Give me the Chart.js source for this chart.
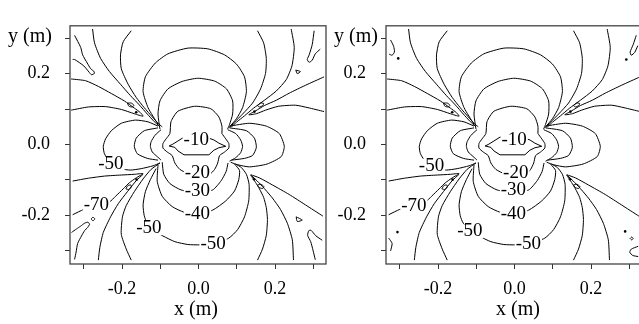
<!DOCTYPE html>
<html>
<head>
<meta charset="utf-8">
<script src="https://cdn.jsdelivr.net/npm/chart.js@4/dist/chart.umd.min.js"></script>
<style>
  html, body { margin: 0; padding: 0; background: #fff; overflow: hidden; width: 639px; height: 324px; }
  canvas { position: absolute; top: 0; }
  #left { left: 0; }
  #right { left: 316px; }
</style>
</head>
<body>
<canvas id="left" width="330" height="324"></canvas>
<canvas id="right" width="330" height="324"></canvas>
<script>
// contour polylines, [x (m), y (m)]
var contourM10 = [[-0.038,0.021],[-0.054,0.010],[-0.069,0.000],[-0.077,-0.004],[-0.062,-0.008],[-0.054,-0.018],[-0.038,-0.029],[0.027,-0.029],[0.040,-0.016],[0.053,-0.009],[0.071,-0.005],[0.053,0.004],[0.040,0.013],[0.027,0.018],[-0.038,0.021]];
var contourM20 = [[0.061,0.031],[0.061,0.052],[0.053,0.078],[0.032,0.101],[-0.010,0.108],[-0.054,0.094],[-0.072,0.065],[-0.075,0.031],[-0.085,0.016],[-0.093,0.003],[-0.093,-0.010],[-0.082,-0.021],[-0.069,-0.031],[-0.062,-0.052],[-0.049,-0.070],[-0.023,-0.084],[0.003,-0.086],[0.029,-0.084],[0.042,-0.070],[0.050,-0.052],[0.055,-0.031],[0.068,-0.021],[0.079,-0.010],[0.079,0.003],[0.071,0.016],[0.061,0.031]];
var archTop30 = [[-0.101,0.044],[-0.106,0.086],[-0.101,0.123],[-0.080,0.157],[-0.043,0.178],[-0.002,0.187],[0.042,0.179],[0.073,0.157],[0.089,0.123],[0.089,0.086],[0.081,0.057],[0.076,0.044]];
var archTop40 = [[-0.106,0.057],[-0.132,0.104],[-0.145,0.149],[-0.139,0.191],[-0.113,0.230],[-0.080,0.256],[-0.028,0.272],[0.024,0.270],[0.068,0.253],[0.099,0.227],[0.120,0.191],[0.125,0.149],[0.115,0.104],[0.099,0.073],[0.081,0.050]];
var lobeLeft30 = [[-0.098,0.042],[-0.114,0.026],[-0.124,0.008],[-0.126,-0.005],[-0.121,-0.021],[-0.108,-0.034],[-0.098,-0.044]];
var lobeLeft40 = [[-0.106,0.047],[-0.142,0.039],[-0.163,0.018],[-0.168,-0.005],[-0.160,-0.026],[-0.134,-0.039],[-0.106,-0.044]];
var lobeLeft50 = [[-0.106,0.052],[-0.132,0.064],[-0.165,0.069],[-0.202,0.060],[-0.228,0.039],[-0.243,0.016],[-0.249,-0.005],[-0.246,-0.026],[-0.230,-0.052],[-0.204,-0.068],[-0.178,-0.072],[-0.150,-0.068],[-0.119,-0.060],[-0.101,-0.052]];
var lobeRight30 = [[0.076,0.042],[0.097,0.031],[0.110,0.013],[0.115,-0.005],[0.110,-0.023],[0.097,-0.037],[0.081,-0.047]];
var lobeRight40 = [[0.081,0.047],[0.125,0.039],[0.146,0.018],[0.151,-0.008],[0.141,-0.031],[0.120,-0.039],[0.086,-0.044]];
var lobeRight50 = [[0.081,0.052],[0.133,0.060],[0.177,0.052],[0.211,0.031],[0.224,-0.005],[0.216,-0.034],[0.179,-0.055],[0.133,-0.063],[0.102,-0.057],[0.084,-0.050]];
var cupBottom30 = [[-0.095,-0.050],[-0.091,-0.084],[-0.075,-0.110],[-0.046,-0.128],[-0.004,-0.136],[0.037,-0.128],[0.059,-0.102],[0.072,-0.076],[0.077,-0.052]];
var cupBottom40 = [[-0.106,-0.057],[-0.108,-0.104],[-0.095,-0.146],[-0.069,-0.175],[-0.038,-0.191],[-0.002,-0.198],[0.037,-0.185],[0.071,-0.159],[0.094,-0.131],[0.105,-0.099],[0.107,-0.073],[0.094,-0.055]];
var cupBottom50 = [[-0.111,-0.068],[-0.126,-0.099],[-0.139,-0.133],[-0.145,-0.170],[-0.142,-0.201],[-0.134,-0.222],[-0.113,-0.245],[-0.093,-0.258],[-0.062,-0.274],[-0.028,-0.282],[0.003,-0.283],[0.037,-0.281],[0.079,-0.264],[0.102,-0.240],[0.120,-0.204],[0.131,-0.159],[0.132,-0.112],[0.125,-0.084],[0.112,-0.065],[0.097,-0.055]];
var edgeTopLeftA = [[-0.277,0.326],[-0.272,0.287],[-0.256,0.243],[-0.233,0.206],[-0.204,0.170],[-0.178,0.138],[-0.155,0.112],[-0.134,0.086],[-0.116,0.065],[-0.103,0.052]];
var edgeTopLeftB = [[-0.176,0.321],[-0.197,0.290],[-0.204,0.253],[-0.202,0.214],[-0.184,0.170],[-0.163,0.133],[-0.142,0.104],[-0.121,0.078],[-0.106,0.060],[-0.095,0.050]];
var tongueTopLeft = [[-0.333,0.185],[-0.295,0.180],[-0.262,0.164],[-0.228,0.144],[-0.194,0.123],[-0.168,0.103],[-0.152,0.090],[-0.145,0.080],[-0.168,0.087],[-0.202,0.099],[-0.243,0.107],[-0.288,0.106],[-0.333,0.097]];
var edgeTopRightA = [[0.154,0.321],[0.170,0.287],[0.177,0.243],[0.175,0.201],[0.162,0.157],[0.141,0.117],[0.115,0.086],[0.094,0.063],[0.081,0.047]];
var edgeTopRightB = [[0.242,0.326],[0.250,0.274],[0.244,0.222],[0.229,0.183],[0.203,0.151],[0.172,0.125],[0.143,0.102],[0.120,0.081],[0.099,0.063],[0.086,0.050]];
var tongueTopRight = [[0.328,0.191],[0.279,0.167],[0.237,0.145],[0.203,0.125],[0.172,0.110],[0.149,0.095],[0.131,0.084],[0.151,0.087],[0.175,0.097],[0.209,0.108],[0.253,0.111],[0.286,0.104],[0.328,0.093]];
var tongueBottomLeft = [[-0.329,-0.103],[-0.288,-0.095],[-0.246,-0.089],[-0.202,-0.086],[-0.168,-0.084],[-0.145,-0.082],[-0.163,-0.094],[-0.181,-0.108],[-0.197,-0.125],[-0.217,-0.146],[-0.233,-0.162],[-0.267,-0.172],[-0.300,-0.183],[-0.329,-0.198]];
var edgeBottomLeftA = [[-0.145,-0.084],[-0.163,-0.102],[-0.186,-0.133],[-0.210,-0.167],[-0.230,-0.204],[-0.249,-0.248],[-0.258,-0.290],[-0.262,-0.326]];
var edgeBottomLeftB = [[-0.101,-0.052],[-0.124,-0.070],[-0.145,-0.097],[-0.168,-0.133],[-0.189,-0.172],[-0.199,-0.204],[-0.202,-0.253],[-0.189,-0.295],[-0.176,-0.326]];
var tongueBottomRight = [[0.136,-0.085],[0.159,-0.094],[0.193,-0.114],[0.237,-0.141],[0.279,-0.170],[0.325,-0.202]];
var edgeBottomRightA = [[0.136,-0.086],[0.149,-0.107],[0.159,-0.125],[0.170,-0.149],[0.177,-0.178],[0.180,-0.211],[0.177,-0.256],[0.167,-0.295],[0.154,-0.326]];
var edgeBottomRightB = [[0.138,-0.087],[0.157,-0.107],[0.175,-0.128],[0.193,-0.151],[0.214,-0.183],[0.232,-0.222],[0.245,-0.269],[0.248,-0.326]];
var blobTopLeft = [[-0.186,0.117],[-0.176,0.117],[-0.169,0.111],[-0.173,0.106],[-0.182,0.108],[-0.186,0.117]];
var blobTopRight = [[0.154,0.110],[0.162,0.117],[0.170,0.116],[0.168,0.110],[0.159,0.106],[0.154,0.110]];
var blobBottomLeft = [[-0.190,-0.125],[-0.185,-0.116],[-0.177,-0.114],[-0.176,-0.120],[-0.182,-0.127],[-0.190,-0.125]];
var blobBottomRight = [[0.154,-0.114],[0.163,-0.112],[0.171,-0.119],[0.167,-0.124],[0.158,-0.121],[0.154,-0.114]];
var dotsBoth = [[-0.163,0.091],[0.146,0.093],[-0.162,-0.099],[0.145,-0.098]];

// only in the left panel
var hookTopLeft = [[-0.324,0.308],[-0.308,0.274],[-0.303,0.253],[-0.291,0.230],[-0.282,0.214],[-0.274,0.207],[-0.272,0.201],[-0.280,0.197],[-0.286,0.204],[-0.300,0.222],[-0.324,0.240],[-0.329,0.240]];
var hookTopRight = [[0.302,0.321],[0.297,0.282],[0.289,0.253],[0.284,0.240],[0.289,0.232],[0.297,0.238],[0.305,0.256],[0.318,0.269]];
var triTopRight = [[0.254,0.210],[0.266,0.206],[0.258,0.200],[0.254,0.210]];
var hookBottomLeft = [[-0.332,-0.248],[-0.319,-0.238],[-0.308,-0.230],[-0.298,-0.222],[-0.289,-0.219],[-0.285,-0.225],[-0.290,-0.234],[-0.298,-0.243],[-0.306,-0.258],[-0.316,-0.279],[-0.320,-0.303],[-0.324,-0.324]];
var ringBottomLeft = [[-0.281,-0.210],[-0.276,-0.205],[-0.271,-0.210],[-0.276,-0.215],[-0.281,-0.210]];
var hookBottomRight = [[0.323,-0.270],[0.306,-0.257],[0.294,-0.242],[0.288,-0.243],[0.285,-0.256],[0.293,-0.274],[0.299,-0.298],[0.305,-0.325]];
var triBottomRight = [[0.255,-0.204],[0.271,-0.213],[0.258,-0.217],[0.255,-0.204]];

// only in the right panel
var hookTopLeft2 = [[-0.324,0.295],[-0.316,0.277],[-0.314,0.261],[-0.320,0.252],[-0.328,0.255]];
var hookTopRight2 = [[0.318,0.308],[0.310,0.282],[0.302,0.261],[0.305,0.252],[0.314,0.260],[0.322,0.279]];
var arcBottomLeft2 = [[-0.329,-0.264],[-0.320,-0.279],[-0.324,-0.300]];
var ringBottomRight2 = [[0.302,-0.265],[0.306,-0.261],[0.310,-0.265],[0.306,-0.269],[0.302,-0.265]];
var arcBottomRight2 = [[0.323,-0.287],[0.305,-0.295],[0.301,-0.304],[0.309,-0.313],[0.323,-0.316]];
var dotsRight = [[-0.304,0.243],[0.292,0.240],[-0.306,-0.247],[0.289,-0.245]];

// contour labels
var labelText = ['-10', '-20', '-30', '-40', '-50', '-50', '-50', '-70'];
var labelsLeft = [[-0.006,0.012],[-0.003,-0.080],[-0.003,-0.132],[-0.003,-0.197],[0.038,-0.281],[-0.130,-0.236],[-0.229,-0.056],[-0.267,-0.170]];
var labelsRight = [[-0.001,0.013],[0.003,-0.080],[-0.003,-0.128],[-0.003,-0.197],[0.036,-0.281],[-0.117,-0.245],[-0.217,-0.060],[-0.263,-0.174]];

var xMin = -0.336, xMax = 0.333, yMin = -0.337, yMax = 0.335;

var sharedLines = [contourM10, contourM20, archTop30, archTop40, lobeLeft30, lobeLeft40, lobeLeft50,
  lobeRight30, lobeRight40, lobeRight50, cupBottom30, cupBottom40, cupBottom50,
  edgeTopLeftA, edgeTopLeftB, tongueTopLeft, edgeTopRightA, edgeTopRightB, tongueTopRight,
  tongueBottomLeft, edgeBottomLeftA, edgeBottomLeftB, tongueBottomRight, edgeBottomRightA, edgeBottomRightB,
  blobTopLeft, blobTopRight, blobBottomLeft, blobBottomRight];
var leftLines = sharedLines.concat([hookTopLeft, hookTopRight, triTopRight, hookBottomLeft, ringBottomLeft, hookBottomRight, triBottomRight]);
var rightLines = sharedLines.concat([hookTopLeft2, hookTopRight2, arcBottomLeft2, ringBottomRight2, arcBottomRight2]);

var serif = "'Liberation Serif', 'Times New Roman', serif";

function toPoints(arr) {
  return arr.map(function (p) { return { x: p[0], y: p[1] }; });
}

function tickLabel(v) {
  var k = Math.round(v * 10);
  if (k % 2 !== 0) return '';
  if (k === 0) return '0.0';
  return (k / 10).toFixed(1);
}

function makeChart(id, lines, dots, labels, yTitleX, xTitleX) {
  var datasets = lines.map(function (arr) {
    return {
      data: toPoints(arr),
      showLine: true,
      borderColor: '#000',
      borderWidth: 1,
      pointRadius: 0,
      tension: arr === contourM10 ? 0 : 0.2,
      fill: false
    };
  });
  datasets.push({
    data: toPoints(dots),
    showLine: false,
    pointRadius: 1.3,
    pointBackgroundColor: '#000',
    pointBorderWidth: 0
  });

  var decor = {
    id: 'decor',
    afterDatasetsDraw: function (chart) {
      var ctx = chart.ctx;
      var xs = chart.scales.x, ys = chart.scales.y;
      ctx.save();
      ctx.font = '19px ' + serif;
      ctx.textAlign = 'center';
      ctx.textBaseline = 'middle';
      for (var i = 0; i < labels.length; i++) {
        var px = xs.getPixelForValue(labels[i][0]);
        var py = ys.getPixelForValue(labels[i][1]);
        var w = ctx.measureText(labelText[i]).width + 2;
        ctx.fillStyle = '#fff';
        ctx.fillRect(px - w / 2, py - 7, w, 14);
        ctx.fillStyle = '#000';
        ctx.fillText(labelText[i], px, py);
      }
      ctx.restore();
    },
    afterDraw: function (chart) {
      var ctx = chart.ctx, a = chart.chartArea;
      ctx.save();
      ctx.strokeStyle = '#444';
      ctx.lineWidth = 1.3;
      ctx.strokeRect(a.left, a.top, a.right - a.left, a.bottom - a.top);
      ctx.fillStyle = '#000';
      ctx.font = '20px ' + serif;
      ctx.textBaseline = 'middle';
      ctx.textAlign = 'left';
      ctx.fillText('y (m)', yTitleX, 37);
      ctx.textAlign = 'center';
      ctx.fillText('x (m)', xTitleX, 310);
      ctx.restore();
    }
  };

  var axisCommon = function (min, max) {
    return {
      type: 'linear',
      min: min,
      max: max,
      border: { display: false },
      grid: { drawOnChartArea: false, drawTicks: true, tickLength: 5, color: '#333', lineWidth: 1 },
      ticks: {
        stepSize: 0.1,
        includeBounds: false,
        autoSkip: false,
        maxRotation: 0,
        color: '#000',
        font: { family: serif, size: 18 },
        callback: tickLabel
      }
    };
  };
  var xAxis = axisCommon(xMin, xMax);
  xAxis.ticks.padding = 9;
  xAxis.afterFit = function (s) { s.height = 60; };
  var yAxis = axisCommon(yMin, yMax);
  yAxis.ticks.padding = 15;
  yAxis.afterFit = function (s) { s.width = 70; };

  return new Chart(document.getElementById(id).getContext('2d'), {
    type: 'scatter',
    data: { datasets: datasets },
    options: {
      responsive: false,
      animation: false,
      devicePixelRatio: 1,
      layout: { padding: { top: 7, right: 4, left: 0, bottom: 0 } },
      plugins: { legend: { display: false }, tooltip: { enabled: false } },
      scales: { x: xAxis, y: yAxis }
    },
    plugins: [decor]
  });
}

makeChart('left', leftLines, dotsBoth, labelsLeft, 8, 196);
makeChart('right', rightLines, dotsBoth.concat(dotsRight), labelsRight, 18, 202);
</script>
</body>
</html>
